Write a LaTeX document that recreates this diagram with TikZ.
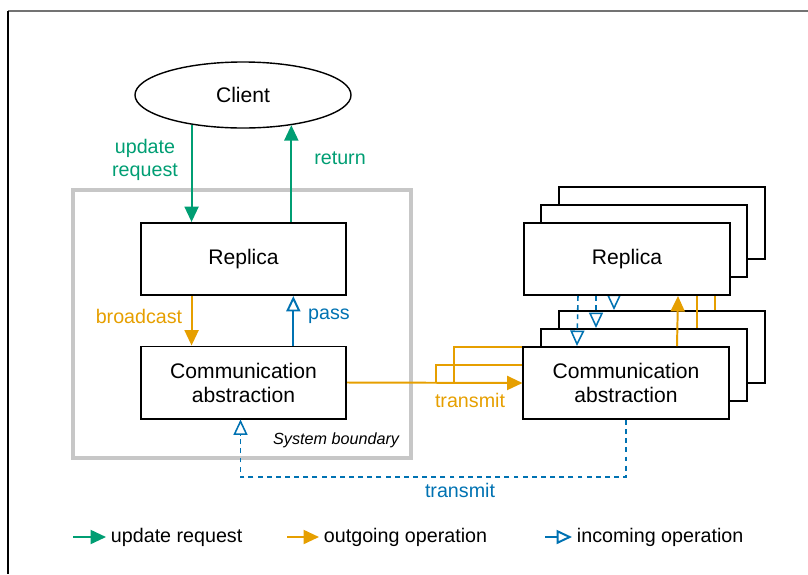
\documentclass[tikz,border=0pt]{standalone}
\usepackage{fontspec}
\setmainfont{Liberation Sans}
\usetikzlibrary{positioning,arrows.meta,calc,shapes.geometric}
\definecolor{updgreen}{HTML}{009E73}
\definecolor{outorange}{HTML}{E69F00}
\definecolor{incblue}{HTML}{0072B2}

\begin{document}
\begin{tikzpicture}[x=0.025cm, y=-0.025cm,
  every node/.style={align=center},
  box/.style={draw, line width=1.4pt, fill=white, minimum width=5.125cm,
    minimum height=1.8cm, font=\fontsize{15}{17}\selectfont},
  lbl/.style={font=\fontsize{14}{16.5}\selectfont},
  upd/.style={draw=updgreen, line width=1.4pt, -{Triangle[length=11pt,width=10pt]}},
  outg/.style={draw=outorange, line width=1.4pt, -{Triangle[length=11pt,width=10pt]}},
  inc/.style={draw=incblue, line width=1.4pt, -{Triangle[open,length=11pt,width=10pt]}},
  dsh/.style={line width=1.1pt, dash pattern=on 3.5pt off 3pt}]
  \useasboundingbox (0,0) rectangle (808,574);
  \draw[black!55, line width=0.8pt] (8,11) -- (808,11);
  \draw[line width=0.8pt] (8,11) -- (8,574);

  % own system
  \draw[black!22, line width=2.8pt] (73,190) rectangle (411,458);
  \node[font=\fontsize{11.5}{13}\selectfont\itshape, anchor=east] (sysb) at (404,440) {System boundary};
  \node[ellipse, draw, line width=1pt, minimum width=5.4cm, minimum height=1.65cm,
    font=\fontsize{15}{17}\selectfont] (client) at (243,95) {Client};
  \node[box] (rep) at (243.5,259) {Replica};
  \node[box] (comm) at (243.5,382.5) {Communication\\abstraction};

  \draw[upd] (client.210) -- (client.210 |- rep.north);
  \draw[upd] (rep.north -| client.328) -- (client.328);
  \draw[outg] (rep.south -| client.210) -- (comm.north -| client.210);
  \draw[inc] ($(comm.north -| client.328)+(2,0)$) -- ($(rep.south -| client.328)+(2,0)$);
  \node[lbl, text=updgreen] (lupd) at (145,160) {update\\request};
  \node[lbl, text=updgreen] (lret) at (340,158) {return};
  \node[lbl, text=outorange] (lbc) at (139,316) {broadcast};
  \node[lbl, text=incblue] (lpass) at (329,316) {pass};

  \coordinate (br1) at ($(comm.east)+(89,0)$);
  \coordinate (br2) at ($(comm.east)+(107,0)$);

  % other replicas, back to front
  \node[box] (rep3) at (662,223) {};
  \node[box] (com3) at (662,347) {};
  \draw[inc, dsh] ($(rep3.south)+(-48,0)$) -- ($(com3.north)+(-48,0)$);
  \draw[outg] ($(com3.north)+(53,0)$) -- ($(rep3.south)+(53,0)$);
  \draw[outg] (br2) |- (com3.west);

  \node[box] (rep2) at (644,241) {};
  \node[box] (com2) at (644,365) {};
  \draw[inc, dsh] ($(rep2.south)+(-48,0)$) -- ($(com2.north)+(-48,0)$);
  \draw[outg] ($(com2.north)+(53,0)$) -- ($(rep2.south)+(53,0)$);
  \draw[outg] (br1) |- (com2.west);

  \node[box] (rep1) at (627,259) {Replica};
  \node[box] (com1) at (626,383) {Communication\\abstraction};
  \draw[inc, dsh] ($(rep1.south)+(-49,0)$) -- ($(com1.north)+(-49,0)$);
  \draw[outg] ($(com1.north)+(51,0)$) -- ($(rep1.south)+(51,0)$);

  % between the systems
  \draw[outg] (comm.east) -- (com1.west);
  \node[lbl, text=outorange] (ltro) at (470,400) {transmit};
  \draw[inc, dsh] (com1.south) -- ++(0,57) -| ($(comm.south)+(-3,0)$);
  \node[lbl, text=incblue] (ltri) at (460,490) {transmit};

  % legend
  \node[lbl, anchor=west] (legupd) at (106,537) {update request};
  \node[lbl, anchor=west] (legout) at (319,537) {outgoing operation};
  \node[lbl, anchor=west] (leginc) at (572,537) {incoming operation};
  \draw[upd] ($(legupd.west)+(-33,0)$) -- (legupd.west);
  \draw[outg] ($(legout.west)+(-32,0)$) -- (legout.west);
  \draw[inc] ($(leginc.west)+(-27,0)$) -- (leginc.west);
\end{tikzpicture}
\end{document}
